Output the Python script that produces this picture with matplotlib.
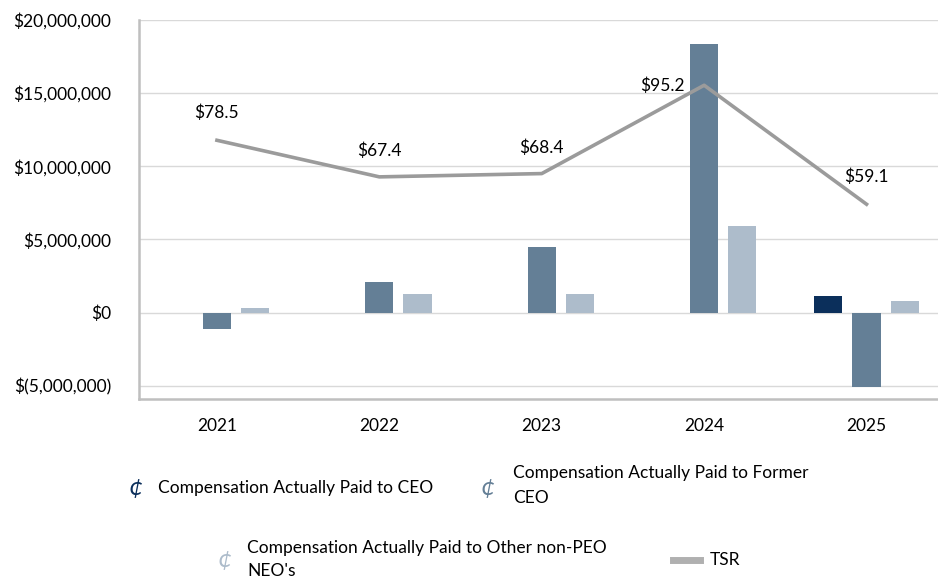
import matplotlib
matplotlib.use("Agg")
import matplotlib.pyplot as plt
from matplotlib.lines import Line2D
import numpy as np

plt.rcParams['font.family'] = ['Lato', 'DejaVu Sans']

years = ["2021", "2022", "2023", "2024", "2025"]
cap_ceo = [np.nan, np.nan, np.nan, np.nan, 1.17e6]
cap_former_ceo = [-1.15e6, 2.12e6, 4.5e6, 18.35e6, -5.05e6]
cap_other_neo = [0.3e6, 1.3e6, 1.3e6, 5.95e6, 0.82e6]
tsr = [78.5, 67.4, 68.4, 95.2, 59.1]
ytick_vals = [-5e6, 0, 5e6, 10e6, 15e6, 20e6]
ytick_labels = ["$(5,000,000)", "$0", "$5,000,000", "$10,000,000", "$15,000,000", "$20,000,000"]

c_ceo = "#0B2F5B"
c_former = "#647F96"
c_other = "#ADBCCB"
c_tsr = "#9B9B9B"

fig = plt.figure(figsize=(9.38, 5.79), dpi=100)
ax = fig.add_axes([139/938, 1-399/579, 1-139/938, (399-20)/579])

x = np.arange(len(years))
w = 0.173
off = 0.235
ax.bar(x - off, cap_ceo, w, color=c_ceo, zorder=3)
ax.bar(x, cap_former_ceo, w, color=c_former, zorder=3)
ax.bar(x + off, cap_other_neo, w, color=c_other, zorder=3)

fs = 12.5
ax.set_xlim(-0.48, 4.44)
ax.set_ylim(-5.9e6, 20e6)
ax.set_yticks(ytick_vals)
ax.set_yticklabels(ytick_labels, fontsize=fs)
ax.set_xticks(x)
ax.set_xticklabels(years, fontsize=fs)
ax.tick_params(axis='both', length=0)
ax.tick_params(axis='x', pad=14)
ax.tick_params(axis='y', pad=20)
ax.grid(axis='y', color="#D9D9D9", linewidth=1, zorder=0)
for s in ['top', 'right']:
    ax.spines[s].set_visible(False)
for s in ['left', 'bottom']:
    ax.spines[s].set_color("#BFBFBF")
    ax.spines[s].set_linewidth(1.8)

ax2 = ax.twinx()
ax2.set_ylim(0, 115)
ax2.axis('off')
ax2.plot(x, tsr, color=c_tsr, linewidth=2.6, zorder=4)
label_offsets = [(0, 14), (0, 13), (0, 13), (-30, 0), (0, 14)]
for xi, v, (dx, dy) in zip(x, tsr, label_offsets):
    ax2.annotate(f"${v}", (xi, v), xytext=(dx, dy), textcoords='offset points',
                 ha='center', va='bottom' if dy > 0 else 'center', fontsize=fs, color="#000000")

# legend
def px(xp, yp):
    return xp/938, 1-yp/579

fig.text(*px(136, 488), "¢", color=c_ceo, fontsize=18, ha='center', va='center', style='italic')
fig.text(*px(158, 488), "Compensation Actually Paid to CEO", fontsize=fs, ha='left', va='center')
fig.text(*px(488, 488), "¢", color=c_former, fontsize=18, ha='center', va='center', style='italic')
fig.text(*px(513, 473), "Compensation Actually Paid to Former", fontsize=fs, ha='left', va='center')
fig.text(*px(513, 498), "CEO", fontsize=fs, ha='left', va='center')
fig.text(*px(225, 559), "¢", color=c_other, fontsize=18, ha='center', va='center', style='italic')
fig.text(*px(247, 548), "Compensation Actually Paid to Other non-PEO", fontsize=fs, ha='left', va='center')
fig.text(*px(247, 571), "NEO's", fontsize=fs, ha='left', va='center')
x0, y0 = px(673, 560)
x1, _ = px(700, 560)
fig.add_artist(Line2D([x0, x1], [y0, y0], color="#B0B0B0", linewidth=5, transform=fig.transFigure))
fig.text(*px(710, 560), "TSR", fontsize=fs, ha='left', va='center')

fig.savefig("out.png", dpi=100)
